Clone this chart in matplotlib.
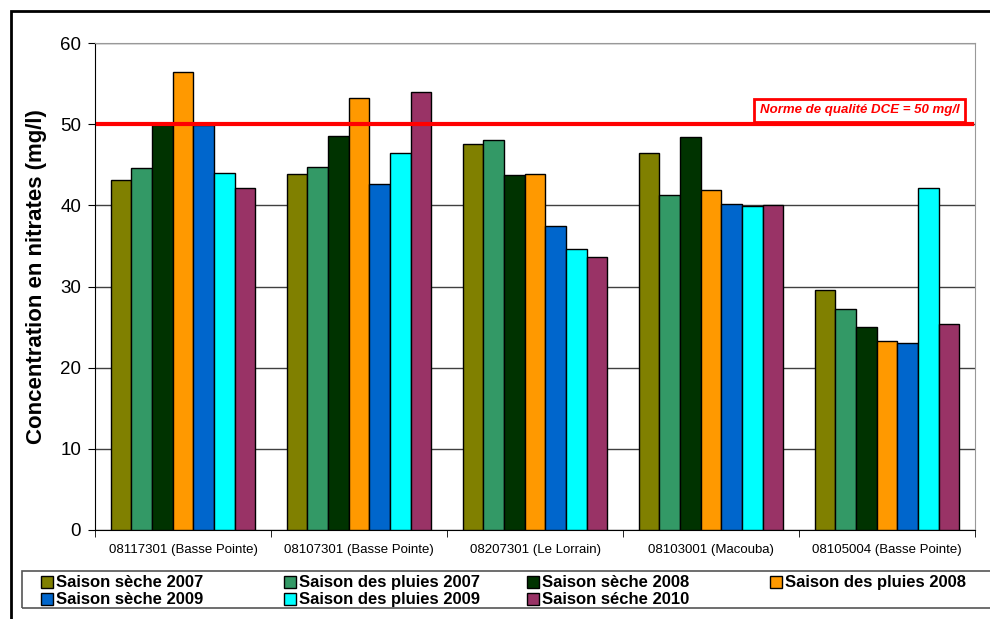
import numpy as np
import matplotlib.pyplot as plt
from matplotlib.patches import Rectangle

plt.rcParams['font.family'] = ['Liberation Sans', 'DejaVu Sans']

# stations (x axis)
stations = ['08117301 (Basse Pointe)', '08107301 (Basse Pointe)', '08207301 (Le Lorrain)',
            '08103001 (Macouba)', '08105004 (Basse Pointe)']

# one series per sampling campaign, values in mg/l
seche_2007 = [43.1, 43.9, 47.6, 46.4, 29.6]
pluies_2007 = [44.6, 44.7, 48.1, 41.3, 27.2]
seche_2008 = [49.9, 48.5, 43.7, 48.4, 25.0]
pluies_2008 = [56.4, 53.2, 43.9, 41.9, 23.3]
seche_2009 = [49.9, 42.6, 37.4, 40.2, 23.1]
pluies_2009 = [44.0, 46.4, 34.6, 39.9, 42.1]
seche_2010 = [42.1, 54.0, 33.6, 40.1, 25.4]

series_names = ['Saison sèche 2007', 'Saison des pluies 2007', 'Saison sèche 2008',
                'Saison des pluies 2008', 'Saison sèche 2009', 'Saison des pluies 2009',
                'Saison séche 2010']
series_values = [seche_2007, pluies_2007, seche_2008, pluies_2008,
                 seche_2009, pluies_2009, seche_2010]
colors = ['#808000', '#339966', '#003300', '#FF9900', '#0066CC', '#00FFFF', '#993366']

norme = 50

fig = plt.figure(figsize=(9.9, 6.19), dpi=100)
ax = fig.add_axes([95 / 990, 89 / 619, 880 / 990, 487 / 619])

x = np.arange(len(stations))
n = len(series_values)
w = 0.823 / n
for i, (vals, c) in enumerate(zip(series_values, colors)):
    ax.bar(x + (i - (n - 1) / 2) * w, vals, width=w, color=c,
           edgecolor='black', linewidth=1, zorder=3)

ax.set_xlim(-0.5, len(stations) - 0.5)
ax.set_ylim(0, 60)
ax.set_yticks(range(0, 61, 10))
ax.tick_params(axis='y', labelsize=13.5, length=5, direction='out', pad=5)
ax.yaxis.grid(True, color='#404040', linewidth=1, zorder=0)

ax.set_xticks(x)
ax.set_xticklabels(stations, fontsize=9.5)
ax.set_xticks(np.arange(-0.5, len(stations)), minor=True)
ax.tick_params(axis='x', which='major', length=0, pad=10)
ax.tick_params(axis='x', which='minor', length=5, direction='out')

ax.spines['left'].set_color('black')
ax.spines['bottom'].set_color('black')
ax.spines['top'].set_color('#999999')
ax.spines['right'].set_color('#999999')

ax.set_ylabel('Concentration en nitrates (mg/l)', fontsize=16, fontweight='bold')
ax.yaxis.set_label_coords(-0.054, 0.52)

# quality standard line
ax.axhline(norme, xmin=0.003, xmax=0.997, color='red', linewidth=3, zorder=4)
ax.text(4.41, norme + 1.0, 'Norme de qualité DCE = 50 mg/l', color='red', fontsize=9.5,
        fontweight='bold', fontstyle='italic', ha='right', va='bottom', zorder=5,
        bbox=dict(facecolor='white', edgecolor='red', linewidth=2, pad=4))

# outer frame (left and top edges visible)
fig.patches.append(Rectangle((10.5 / 990, -0.5), 1.5, 1.5 - 10.5 / 619,
                             transform=fig.transFigure, fill=False,
                             edgecolor='black', linewidth=2))

# legend box, entries laid out row by row
fig.patches.append(Rectangle((22 / 990, 11 / 619), 1.2, 37 / 619,
                             transform=fig.transFigure, fill=False,
                             edgecolor='#555555', linewidth=1.2))
col_x = [47, 290, 533, 776]
row_y = [582, 599]
for k, (name, c) in enumerate(zip(series_names, colors)):
    px = col_x[k % 4]
    py = row_y[k // 4]
    fig.patches.append(Rectangle(((px - 6) / 990, 1 - (py + 6) / 619), 12 / 990, 12 / 619,
                                 transform=fig.transFigure, facecolor=c,
                                 edgecolor='black', linewidth=1))
    fig.text((px + 9) / 990, 1 - (py + 5) / 619, name, fontsize=12, fontweight='bold',
             ha='left', va='baseline')

fig.savefig('out.png', dpi=100)
